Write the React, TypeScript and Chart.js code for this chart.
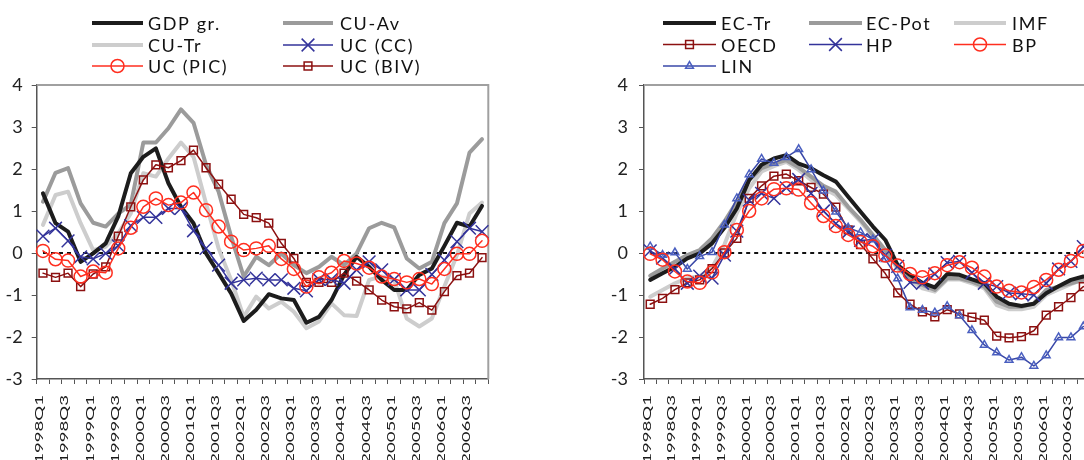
import React, { useEffect, useRef } from "react";
import { Chart, registerables } from "chart.js";

Chart.register(...registerables);

const quarters = [
  "1998Q1", "1998Q2", "1998Q3", "1998Q4", "1999Q1", "1999Q2", "1999Q3", "1999Q4",
  "2000Q1", "2000Q2", "2000Q3", "2000Q4", "2001Q1", "2001Q2", "2001Q3", "2001Q4",
  "2002Q1", "2002Q2", "2002Q3", "2002Q4", "2003Q1", "2003Q2", "2003Q3", "2003Q4",
  "2004Q1", "2004Q2", "2004Q3", "2004Q4", "2005Q1", "2005Q2", "2005Q3", "2005Q4",
  "2006Q1", "2006Q2", "2006Q3", "2006Q4",
];

const yTicks = [-3, -2, -1, 0, 1, 2, 3, 4];

// ---- Left panel ----
const gdpGr = [1.42, 0.71, 0.51, -0.21, -0.01, 0.23, 0.87, 1.9, 2.29, 2.49, 1.66, 1.1, 0.71, -0.01, -0.48, -0.96, -1.62, -1.35, -0.98, -1.08, -1.12, -1.66, -1.52, -1.12, -0.52, -0.09, -0.33, -0.64, -0.88, -0.88, -0.52, -0.37, 0.17, 0.72, 0.63, 1.12];
const cuAv = [1.22, 1.91, 2.02, 1.18, 0.72, 0.63, 0.94, 1.15, 2.63, 2.63, 2.97, 3.42, 3.1, 2.1, 1.46, 0.39, -0.56, -0.09, -0.29, -0.01, -0.29, -0.48, -0.33, -0.09, -0.29, -0.01, 0.59, 0.72, 0.61, -0.13, -0.37, -0.21, 0.71, 1.18, 2.39, 2.71];
const cuTr = [0.67, 1.38, 1.46, 0.71, 0.07, 0.15, 0.47, 0.94, 1.9, 1.82, 2.25, 2.63, 2.29, 1.18, 0.11, -0.64, -1.52, -1.04, -1.32, -1.16, -1.4, -1.79, -1.63, -1.2, -1.48, -1.5, -0.64, -0.56, -0.64, -1.56, -1.75, -1.56, -0.8, -0.05, 0.94, 1.2];
const ucCC = [0.4, 0.59, 0.29, -0.09, -0.14, -0.01, 0.17, 0.65, 0.85, 0.85, 1.06, 1.06, 0.53, 0.11, -0.29, -0.72, -0.64, -0.6, -0.64, -0.64, -0.84, -0.9, -0.63, -0.63, -0.72, -0.4, -0.21, -0.4, -0.63, -0.88, -0.88, -0.51, -0.17, 0.27, 0.59, 0.51];
const ucPIC = [0.05, -0.15, -0.18, -0.56, -0.44, -0.47, 0.11, 0.6, 1.1, 1.3, 1.14, 1.2, 1.44, 1.02, 0.63, 0.27, 0.07, 0.11, 0.17, -0.14, -0.38, -0.8, -0.58, -0.47, -0.19, -0.25, -0.35, -0.56, -0.62, -0.7, -0.62, -0.74, -0.38, -0.02, -0.02, 0.29];
const ucBIV = [-0.48, -0.58, -0.48, -0.8, -0.5, -0.33, 0.4, 1.1, 1.74, 2.1, 2.03, 2.2, 2.45, 2.03, 1.64, 1.28, 0.92, 0.84, 0.71, 0.23, -0.13, -0.7, -0.7, -0.7, -0.48, -0.67, -0.88, -1.12, -1.28, -1.33, -1.18, -1.36, -0.92, -0.54, -0.48, -0.11];

// ---- Right panel ----
const ecTr = [-0.64, -0.48, -0.33, -0.13, -0.01, 0.23, 0.6, 1.06, 1.74, 2.1, 2.25, 2.33, 2.13, 2.02, 1.85, 1.7, 1.34, 0.98, 0.63, 0.31, -0.29, -0.52, -0.71, -0.82, -0.5, -0.52, -0.63, -0.72, -1.04, -1.21, -1.26, -1.21, -0.96, -0.79, -0.64, -0.56];
const ecPot = [-0.54, -0.37, -0.21, -0.05, 0.07, 0.35, 0.75, 1.22, 1.74, 2.02, 2.13, 2.21, 2.04, 1.82, 1.6, 1.46, 1.1, 0.79, 0.43, 0.07, -0.33, -0.6, -0.76, -0.88, -0.6, -0.6, -0.68, -0.8, -1.16, -1.28, -1.28, -1.2, -0.88, -0.8, -0.72, -0.64];
const imf = [-1.04, -0.88, -0.72, -0.6, -0.55, -0.35, 0.2, 0.95, 1.54, 1.94, 2.07, 2.17, 1.98, 1.74, 1.54, 1.38, 1.06, 0.75, 0.39, 0.03, -0.37, -0.64, -0.84, -0.92, -0.63, -0.63, -0.72, -0.84, -1.24, -1.34, -1.34, -1.28, -1.0, -0.87, -0.74, -0.63];
const oecd = [-1.22, -1.08, -0.87, -0.71, -0.64, -0.37, 0.0, 0.35, 1.3, 1.6, 1.83, 1.88, 1.72, 1.56, 1.4, 1.09, 0.55, 0.2, -0.14, -0.49, -0.95, -1.22, -1.4, -1.52, -1.35, -1.45, -1.53, -1.6, -1.98, -2.02, -1.99, -1.85, -1.48, -1.28, -1.06, -0.8];
const hp = [0.05, -0.12, -0.38, -0.72, -0.55, -0.6, -0.05, 0.52, 1.26, 1.42, 1.3, 1.55, 1.75, 1.42, 1.0, 0.7, 0.5, 0.3, 0.32, -0.05, -0.32, -0.7, -0.72, -0.5, -0.23, -0.2, -0.47, -0.72, -0.8, -0.95, -0.97, -1.0, -0.72, -0.38, -0.2, 0.15];
const bp = [-0.02, -0.16, -0.44, -0.68, -0.71, -0.46, 0.02, 0.55, 1.0, 1.3, 1.52, 1.54, 1.51, 1.19, 0.88, 0.64, 0.43, 0.26, 0.16, -0.06, -0.3, -0.5, -0.58, -0.48, -0.29, -0.22, -0.35, -0.56, -0.8, -0.9, -0.94, -0.81, -0.64, -0.4, -0.19, 0.05];
const lin = [0.15, -0.05, 0.01, -0.38, -0.08, 0.02, 0.67, 1.3, 1.87, 2.24, 2.14, 2.28, 2.47, 1.99, 1.48, 0.98, 0.6, 0.49, 0.32, -0.15, -0.61, -1.3, -1.36, -1.42, -1.27, -1.49, -1.84, -2.19, -2.37, -2.55, -2.48, -2.69, -2.44, -2.01, -2.01, -1.75];

const FONT = "Lato, 'Open Sans', 'DejaVu Sans', sans-serif";

const C_BLACK = "#1c1c1c";
const C_GRAY = "#9b9b9b";
const C_LGRAY = "#cdcdcd";
const C_BLUE = "#33339a";
const C_RED = "#ff2e1f";
const C_DRED = "#8c1010";
const C_LIN = "#3a48a8";
const C_LINPT = "#4a5fc0";

type Series = {
  label: string;
  data: number[];
  color: string;
  width: number;
  order: number;
  marker?: string;
  radius?: number;
  markerColor?: string;
};

type LegendItem = { label: string; ds: number; x1: number; x2: number; y: number; base: number; tx: number };

type PanelSpec = {
  series: Series[];
  legend: LegendItem[];
  canvasWidth: number;
  yWidth: number;
  padRight: number;
  tickPad: number;
};

function drawMarker(ctx: CanvasRenderingContext2D, style: string, x: number, y: number, r: number) {
  ctx.beginPath();
  if (style === "circle") {
    ctx.arc(x, y, r, 0, Math.PI * 2);
  } else if (style === "rect") {
    const s = Math.SQRT1_2 * r;
    ctx.rect(x - s, y - s, 2 * s, 2 * s);
  } else if (style === "crossRot") {
    const o = Math.SQRT1_2 * r;
    ctx.moveTo(x - o, y - o);
    ctx.lineTo(x + o, y + o);
    ctx.moveTo(x - o, y + o);
    ctx.lineTo(x + o, y - o);
  } else if (style === "triangle") {
    let a = 0;
    ctx.moveTo(x + Math.sin(a) * r, y - Math.cos(a) * r);
    a += (2 * Math.PI) / 3;
    ctx.lineTo(x + Math.sin(a) * r, y - Math.cos(a) * r);
    a += (2 * Math.PI) / 3;
    ctx.lineTo(x + Math.sin(a) * r, y - Math.cos(a) * r);
    ctx.closePath();
  }
  ctx.stroke();
}

function buildConfig(p: PanelSpec): any {
  const datasets = p.series.map((s) => ({
    label: s.label,
    data: s.data,
    borderColor: s.color,
    backgroundColor: "rgba(0,0,0,0)",
    borderWidth: s.width,
    borderJoinStyle: "round",
    borderCapStyle: "round",
    pointStyle: s.marker || "circle",
    pointRadius: s.marker ? s.radius : 0,
    pointHoverRadius: s.marker ? s.radius : 0,
    pointBorderColor: s.markerColor || s.color,
    pointBackgroundColor: "rgba(0,0,0,0)",
    pointBorderWidth: 1.5,
    tension: 0,
    fill: false,
    order: s.order,
    clip: false,
  }));

  const framePlugin = {
    id: "frame",
    beforeDatasetsDraw(chart: any) {
      const { ctx, chartArea } = chart;
      const { left, right, top, bottom } = chartArea;
      ctx.save();
      ctx.strokeStyle = "#a0a0a0";
      ctx.lineWidth = 2;
      ctx.beginPath();
      ctx.moveTo(left, top);
      ctx.lineTo(right, top);
      ctx.lineTo(right, bottom);
      ctx.stroke();
      // zero reference line from first to last quarter
      const xs = chart.scales.x;
      const ys = chart.scales.y;
      const y0 = ys.getPixelForValue(0);
      ctx.strokeStyle = "#111";
      ctx.lineWidth = 2;
      ctx.setLineDash([4, 4]);
      ctx.beginPath();
      ctx.moveTo(xs.getPixelForValue(0), y0);
      ctx.lineTo(xs.getPixelForValue(quarters.length - 1), y0);
      ctx.stroke();
      ctx.restore();
    },
  };

  const labelPlugin = {
    id: "xlabels",
    afterDraw(chart: any) {
      const ctx = chart.ctx;
      const xs = chart.scales.x;
      ctx.save();
      ctx.fillStyle = "#1a1a1a";
      ctx.font = `12px ${FONT}`;
      ctx.textAlign = "right";
      ctx.textBaseline = "middle";
      quarters.forEach((q, i) => {
        if (i % 2 !== 0) return;
        const x = xs.getPixelForValue(i) - 3.5;
        ctx.save();
        ctx.translate(x, 395);
        ctx.rotate(-Math.PI / 2);
        ctx.scale(1.55, 1);
        ctx.fillText(q, 0, 0);
        ctx.restore();
      });
      ctx.restore();
    },
  };

  const legendPlugin = {
    id: "customLegend",
    afterDraw(chart: any) {
      const ctx = chart.ctx;
      ctx.save();
      p.legend.forEach((it) => {
        const s = p.series[it.ds];
        ctx.setLineDash([]);
        ctx.strokeStyle = s.color;
        ctx.lineWidth = s.width;
        ctx.lineCap = "butt";
        ctx.beginPath();
        ctx.moveTo(it.x1, it.y);
        ctx.lineTo(it.x2, it.y);
        ctx.stroke();
        if (s.marker) {
          ctx.strokeStyle = s.markerColor || s.color;
          ctx.lineWidth = 1.5;
          drawMarker(ctx, s.marker, (it.x1 + it.x2) / 2, it.y, s.radius || 5);
        }
        ctx.fillStyle = "#111";
        ctx.font = `18px ${FONT}`;
        ctx.textAlign = "left";
        ctx.textBaseline = "alphabetic";
        (ctx as any).letterSpacing = "1.6px";
        ctx.fillText(it.label, it.tx, it.base);
        (ctx as any).letterSpacing = "0px";
      });
      ctx.restore();
    },
  };

  return {
    type: "line",
    data: { labels: quarters, datasets },
    options: {
      animation: false,
      responsive: false,
      maintainAspectRatio: false,
      devicePixelRatio: 1,
      events: [],
      layout: { padding: { top: 85, left: 0, right: p.padRight, bottom: 0 } },
      plugins: { legend: { display: false }, tooltip: { enabled: false }, title: { display: false } },
      scales: {
        x: {
          type: "category",
          offset: true,
          grid: { display: true, drawOnChartArea: false, drawTicks: true, tickLength: 5, offset: true, color: "#555", lineWidth: 1 },
          border: { display: true, color: "#555", width: 1.5 },
          ticks: { display: false, autoSkip: false },
          afterFit: (s: any) => {
            s.height = 81;
          },
        },
        y: {
          type: "linear",
          min: yTicks[0],
          max: yTicks[yTicks.length - 1],
          afterBuildTicks: (s: any) => {
            s.ticks = yTicks.map((v) => ({ value: v }));
          },
          ticks: {
            color: "#222",
            font: { family: FONT, size: 18 },
            padding: p.tickPad,
            callback: (v: any) => String(v),
          },
          grid: { display: true, drawOnChartArea: false, drawTicks: true, tickLength: 5, color: "#555", lineWidth: 1 },
          border: { display: true, color: "#555", width: 1.5 },
          afterFit: (s: any) => {
            s.width = p.yWidth;
          },
        },
      },
    },
    plugins: [framePlugin, labelPlugin, legendPlugin],
  };
}

const leftSpec: PanelSpec = {
  canvasWidth: 540,
  yWidth: 36.7,
  padRight: 540 - 488.3,
  tickPad: 9,
  series: [
    { label: "GDP gr.", data: gdpGr, color: C_BLACK, width: 4, order: 8 },
    { label: "CU-Av", data: cuAv, color: C_GRAY, width: 4, order: 10 },
    { label: "CU-Tr", data: cuTr, color: C_LGRAY, width: 4, order: 9 },
    { label: "UC (CC)", data: ucCC, color: C_BLUE, width: 1.5, order: 5, marker: "crossRot", radius: 9 },
    { label: "UC (PIC)", data: ucPIC, color: C_RED, width: 1.5, order: 4, marker: "circle", radius: 6.5 },
    { label: "UC (BIV)", data: ucBIV, color: C_DRED, width: 1.5, order: 6, marker: "rect", radius: 5.5 },
  ],
  legend: [
    { label: "GDP gr.", ds: 0, x1: 92, x2: 143, y: 23, base: 30, tx: 148 },
    { label: "CU-Av", ds: 1, x1: 283, x2: 333, y: 23, base: 30, tx: 340 },
    { label: "CU-Tr", ds: 2, x1: 92, x2: 143, y: 45, base: 52, tx: 148 },
    { label: "UC (CC)", ds: 3, x1: 283, x2: 333, y: 45, base: 52, tx: 340 },
    { label: "UC (PIC)", ds: 4, x1: 92, x2: 143, y: 66, base: 73, tx: 148 },
    { label: "UC (BIV)", ds: 5, x1: 283, x2: 333, y: 66, base: 73, tx: 340 },
  ],
};

const RIGHT_LEFT = 540;
const rightSpec: PanelSpec = {
  canvasWidth: 560,
  yWidth: 104,
  padRight: 6,
  tickPad: 11,
  series: [
    { label: "EC-Tr", data: ecTr, color: C_BLACK, width: 4, order: 8 },
    { label: "EC-Pot", data: ecPot, color: C_GRAY, width: 4, order: 9 },
    { label: "IMF", data: imf, color: C_LGRAY, width: 4, order: 10 },
    { label: "OECD", data: oecd, color: C_DRED, width: 1.5, order: 6, marker: "rect", radius: 5.5 },
    { label: "HP", data: hp, color: C_BLUE, width: 1.5, order: 5, marker: "crossRot", radius: 9 },
    { label: "BP", data: bp, color: C_RED, width: 1.5, order: 3, marker: "circle", radius: 6.5 },
    { label: "LIN", data: lin, color: C_LIN, width: 1.5, order: 4, marker: "triangle", radius: 4.5, markerColor: C_LINPT },
  ],
  legend: [
    { label: "EC-Tr", ds: 0, x1: 663 - RIGHT_LEFT, x2: 716 - RIGHT_LEFT, y: 23, base: 30, tx: 721 - RIGHT_LEFT },
    { label: "EC-Pot", ds: 1, x1: 809 - RIGHT_LEFT, x2: 862 - RIGHT_LEFT, y: 23, base: 30, tx: 866 - RIGHT_LEFT },
    { label: "IMF", ds: 2, x1: 954 - RIGHT_LEFT, x2: 1006 - RIGHT_LEFT, y: 23, base: 30, tx: 1012 - RIGHT_LEFT },
    { label: "OECD", ds: 3, x1: 663 - RIGHT_LEFT, x2: 716 - RIGHT_LEFT, y: 44.5, base: 51.5, tx: 721 - RIGHT_LEFT },
    { label: "HP", ds: 4, x1: 809 - RIGHT_LEFT, x2: 862 - RIGHT_LEFT, y: 44.5, base: 51.5, tx: 866 - RIGHT_LEFT },
    { label: "BP", ds: 5, x1: 954 - RIGHT_LEFT, x2: 1006 - RIGHT_LEFT, y: 44.5, base: 51.5, tx: 1012 - RIGHT_LEFT },
    { label: "LIN", ds: 6, x1: 663 - RIGHT_LEFT, x2: 716 - RIGHT_LEFT, y: 66, base: 73, tx: 721 - RIGHT_LEFT },
  ],
};

function Panel({ spec, left }: { spec: PanelSpec; left: number }) {
  const ref = useRef<HTMLCanvasElement | null>(null);
  useEffect(() => {
    if (!ref.current) return;
    const chart = new Chart(ref.current, buildConfig(spec));
    return () => chart.destroy();
  }, []);
  return (
    <canvas
      ref={ref}
      width={spec.canvasWidth}
      height={460}
      style={{ position: "absolute", left, top: 0, width: spec.canvasWidth, height: 460 }}
    />
  );
}

export default function App() {
  return (
    <div
      style={{
        position: "fixed",
        left: 0,
        top: 0,
        width: 1084,
        height: 460,
        overflow: "hidden",
        background: "#ffffff",
      }}
    >
      <Panel spec={leftSpec} left={0} />
      <Panel spec={rightSpec} left={RIGHT_LEFT} />
    </div>
  );
}
